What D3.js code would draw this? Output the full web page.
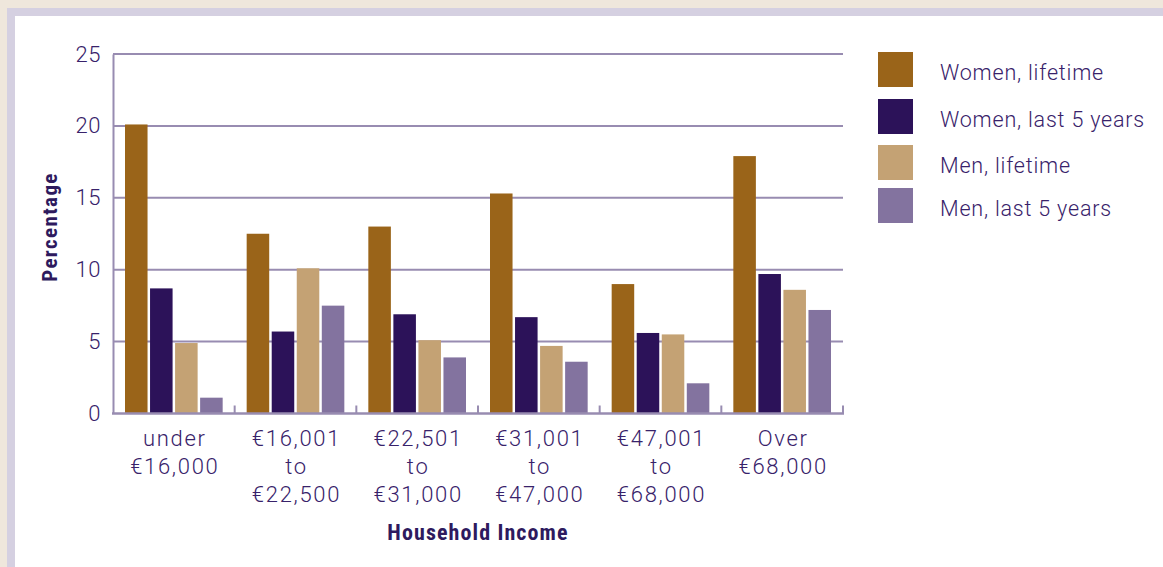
<!DOCTYPE html>
<html>
  <head>
    <style>
      body { margin: 0; background: #efe7dc; }
      svg { display: block; }
      .tick-label { font-family: Roboto, "Liberation Sans", sans-serif; font-weight: 300; fill: #38226a; }
      .title { font-family: "Liberation Sans Narrow", "Roboto Condensed", sans-serif; font-weight: bold; fill: #2e1a5e; }
    </style>
  </head>
  <body>
    <script src="https://cdn.jsdelivr.net/npm/d3@7"></script>
    <script type="text/javascript">

      const width = 1163;
      const height = 567;

      const categories = [
        ['under', '€16,000'],
        ['€16,001', 'to', '€22,500'],
        ['€22,501', 'to', '€31,000'],
        ['€31,001', 'to', '€47,000'],
        ['€47,001', 'to', '€68,000'],
        ['Over', '€68,000']
      ];
      const seriesNames = ['Women, lifetime', 'Women, last 5 years', 'Men, lifetime', 'Men, last 5 years'];
      const womenLifetime = [20.1, 12.5, 13.0, 15.3, 9.0, 17.9];
      const womenLast5 = [8.7, 5.7, 6.9, 6.7, 5.6, 9.7];
      const menLifetime = [4.9, 10.1, 5.1, 4.7, 5.5, 8.6];
      const menLast5 = [1.1, 7.5, 3.9, 3.6, 2.1, 7.2];
      const yTicks = [0, 5, 10, 15, 20, 25];

      const colorArray = ['#9a6419', '#2c1259', '#c4a274', '#83739f'];
      const gridColor = '#988cb1';

      const margin = { left: 113, right: 320, top: 54, bottom: 153.5 };
      const plotW = width - margin.left - margin.right;
      const plotH = height - margin.top - margin.bottom;

      const svg = d3.select('body')
        .append('svg')
        .attr('width', width)
        .attr('height', height);

      // frame
      svg.append('rect').attr('x', 7).attr('y', 8).attr('width', width).attr('height', height).attr('fill', '#d5d0e1');
      svg.append('rect').attr('x', 15).attr('y', 16).attr('width', width).attr('height', height).attr('fill', '#ffffff');

      const data = categories.map((c, i) => [womenLifetime[i], womenLast5[i], menLifetime[i], menLast5[i]]);

      const x0 = d3.scaleBand()
        .domain(d3.range(categories.length))
        .range([0, plotW]);

      const x1 = d3.scaleBand()
        .domain(d3.range(seriesNames.length))
        .range([12, x0.bandwidth() - 12])
        .paddingInner(0.1);

      const y = d3.scaleLinear()
        .domain([0, 25])
        .range([plotH, 0]);

      const g = svg.append('g').attr('transform', `translate(${margin.left}, ${margin.top})`);

      // gridlines
      g.selectAll('.grid')
        .data(yTicks.filter((d) => d > 0))
        .enter()
        .append('line')
        .attr('x1', 0)
        .attr('x2', plotW)
        .attr('y1', (d) => y(d))
        .attr('y2', (d) => y(d))
        .attr('stroke', gridColor)
        .attr('stroke-width', 2);

      // bars
      g.selectAll('.group')
        .data(data)
        .enter()
        .append('g')
        .attr('transform', (d, i) => `translate(${x0(i)}, 0)`)
        .selectAll('rect')
        .data((d) => d)
        .enter()
        .append('rect')
        .attr('x', (d, i) => x1(i))
        .attr('y', (d) => y(d))
        .attr('width', x1.bandwidth())
        .attr('height', (d) => plotH - y(d))
        .attr('fill', (d, i) => colorArray[i]);

      // y axis
      const axisLeft = d3.axisLeft(y).tickValues(yTicks).tickSize(0).tickPadding(12);
      const ya = g.append('g').call(axisLeft);
      ya.select('.domain').attr('stroke', gridColor).attr('stroke-width', 2);
      ya.selectAll('text').attr('class', 'tick-label').style('font-size', '22px').style('letter-spacing', '0.5px');

      // x axis
      const xa = g.append('g').attr('transform', `translate(0, ${plotH})`);
      xa.append('line')
        .attr('x1', -1).attr('x2', plotW + 1)
        .attr('stroke', gridColor).attr('stroke-width', 2.5);
      xa.selectAll('.xtick')
        .data(d3.range(1, categories.length + 1))
        .enter()
        .append('line')
        .attr('x1', (d) => d * x0.step())
        .attr('x2', (d) => d * x0.step())
        .attr('y1', 0)
        .attr('y2', -8)
        .attr('stroke', gridColor)
        .attr('stroke-width', 2);

      xa.selectAll('.xlabel')
        .data(categories)
        .enter()
        .append('text')
        .attr('class', 'tick-label')
        .attr('text-anchor', 'middle')
        .style('font-size', '22px')
        .style('letter-spacing', '1.7px')
        .attr('transform', (d, i) => `translate(${x0(i) + x0.bandwidth() / 2 + 1}, 0)`)
        .selectAll('tspan')
        .data((d) => d)
        .enter()
        .append('tspan')
        .attr('x', 0)
        .attr('y', (d, i) => 32 + i * 28)
        .text((d) => d);

      // axis titles
      g.append('text')
        .attr('class', 'title')
        .attr('x', plotW / 2)
        .attr('y', plotH + 126)
        .attr('text-anchor', 'middle')
        .style('font-size', '22px')
        .style('letter-spacing', '1.1px')
        .text('Household Income');

      g.append('text')
        .attr('class', 'title')
        .attr('transform', `translate(${-56}, ${227 - margin.top}) rotate(-90)`)
        .attr('text-anchor', 'middle')
        .style('font-size', '21px')
        .style('letter-spacing', '1.4px')
        .text('Percentage');

      // legend
      const legendTops = [52, 99, 145, 188];
      const legend = svg.append('g')
        .selectAll('.legend')
        .data(seriesNames)
        .enter()
        .append('g')
        .attr('transform', (d, i) => `translate(878, ${legendTops[i]})`);
      legend.append('rect')
        .attr('width', 35)
        .attr('height', 35)
        .attr('fill', (d, i) => colorArray[i]);
      legend.append('text')
        .attr('class', 'tick-label')
        .attr('x', 62)
        .attr('y', 28)
        .style('font-size', '21.5px')
        .style('letter-spacing', '0.8px')
        .text((d) => d);

    </script>
  </body>
</html>
